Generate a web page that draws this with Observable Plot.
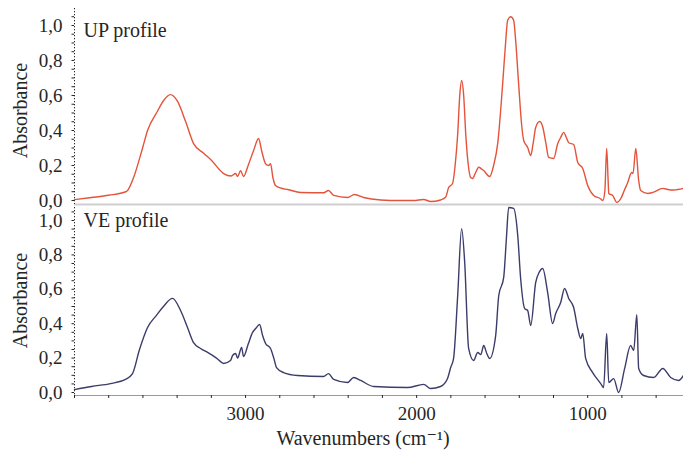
<!DOCTYPE html>
<html><head><meta charset="utf-8">
<script src="https://cdn.jsdelivr.net/npm/d3@7"></script>
<script src="https://cdn.jsdelivr.net/npm/@observablehq/plot@0.6"></script>
<style>
body{margin:0;background:#fff}
#chart svg{display:block;overflow:visible}
#chart svg, #chart svg text{font-family:"Liberation Serif","Times New Roman","DejaVu Serif",serif !important}
</style>
</head><body><div id="chart"></div>
<script>
// UP profile spectrum (wavenumber, absorbance)
const upWn = [4000,3900,3800,3700,3690,3655,3602,3573,3515,3480,3439,3400,3350,3304,3245,3200,3128,3085,3058,3047,3029,3012,2985,2953,2924,2905,2883,2865,2854,2840,2825,2790,2754,2678,2544,2515,2485,2404,2363,2310,2210,2100,2018,1959,1918,1860,1830,1813,1790,1775,1760,1748,1737,1725,1713,1700,1684,1673,1655,1637,1620,1608,1573,1550,1526,1497,1480,1468,1450,1433,1420,1404,1385,1374,1351,1333,1320,1304,1281,1262,1245,1228,1199,1175,1158,1140,1125,1111,1082,1058,1029,1000,965,925,912,900,889,880,877,854,830,807,785,766,743,735,719,702,690,649,620,561,532,497,440];
const upAbs = [0.005,0.017,0.03,0.05,0.057,0.13,0.3,0.4,0.51,0.57,0.605,0.57,0.45,0.325,0.27,0.23,0.154,0.14,0.154,0.137,0.17,0.137,0.2,0.286,0.354,0.28,0.21,0.2,0.21,0.13,0.086,0.07,0.063,0.046,0.044,0.057,0.029,0.017,0.034,0.017,0.003,0.0,0.0,0.006,-0.006,0.003,0.02,0.074,0.097,0.2,0.38,0.6,0.686,0.6,0.38,0.22,0.131,0.126,0.16,0.19,0.18,0.171,0.137,0.2,0.326,0.669,0.9,1.03,1.05,1.03,0.9,0.669,0.42,0.343,0.303,0.257,0.32,0.417,0.451,0.417,0.33,0.246,0.24,0.326,0.36,0.389,0.36,0.33,0.32,0.217,0.183,0.086,0.029,0.01,0.0,0.05,0.297,0.1,0.04,0.029,-0.011,0.01,0.06,0.103,0.16,0.154,0.297,0.114,0.057,0.04,0.046,0.069,0.063,0.06,0.069];

// VE profile spectrum (wavenumber, absorbance)
const veWn = [4000,3900,3790,3702,3661,3620,3573,3520,3480,3427,3380,3340,3304,3263,3222,3170,3128,3088,3076,3058,3047,3023,3012,2985,2959,2941,2918,2900,2883,2854,2835,2819,2778,2696,2544,2515,2485,2404,2368,2327,2251,2053,1959,1918,1860,1820,1801,1784,1760,1737,1719,1696,1667,1643,1625,1608,1590,1573,1538,1520,1491,1475,1462,1433,1409,1392,1368,1351,1333,1304,1283,1263,1234,1205,1187,1158,1135,1111,1082,1058,1041,1029,1012,971,924,907,889,877,848,819,784,749,731,713,702,673,614,561,515,468,440];
const veAbs = [0.017,0.035,0.052,0.076,0.11,0.25,0.378,0.45,0.5,0.547,0.477,0.38,0.29,0.256,0.233,0.2,0.169,0.186,0.215,0.227,0.2,0.262,0.209,0.28,0.35,0.372,0.395,0.33,0.285,0.256,0.2,0.145,0.116,0.099,0.093,0.11,0.076,0.058,0.087,0.07,0.035,0.029,0.047,0.023,0.035,0.08,0.145,0.198,0.564,0.953,0.756,0.256,0.186,0.233,0.22,0.273,0.227,0.198,0.331,0.564,0.669,0.9,1.076,1.07,0.913,0.663,0.488,0.477,0.39,0.64,0.7,0.721,0.581,0.401,0.459,0.523,0.605,0.547,0.494,0.372,0.314,0.343,0.198,0.116,0.052,0.029,0.343,0.058,0.081,0.0,0.14,0.273,0.244,0.453,0.14,0.099,0.087,0.14,0.087,0.07,0.099];

const yTicks = [0, 0.2, 0.4, 0.6, 0.8, 1.0];
const yTickLabels = ["0,0", "0,2", "0,4", "0,6", "0,8", "1,0"];
const xTicks = [3000, 2000, 1000];
const panelLabels = ["UP profile", "VE profile"];
const yLabel = "Absorbance";
const xLabel = "Wavenumbers (cm\u207B\u00B9)";

const upData = upWn.map((w, i) => ({w, a: upAbs[i]}));
const veData = veWn.map((w, i) => ({w, a: veAbs[i]}));

const W = 683, ML = 74, MR = 0;
const xDomain = [4000, 440];
const ink = "#262626";
const minorY = d3.range(0, 1.0801, 0.05);
const minorX = d3.range(4000, 440, -200);

function yAxisMarks() {
  return [
    Plot.ruleX([4000], {stroke: ink, strokeDasharray: "1.3,1.7", strokeWidth: 1}),
    Plot.axisY({ticks: minorY, tickSize: 2.5, tickFormat: () => "", stroke: ink, label: null}),
    Plot.axisY({ticks: yTicks, tickSize: 0, tickPadding: 12, tickFormat: d => yTickLabels[yTicks.findIndex(t => Math.abs(t - d) < 1e-9)], fontSize: 19, fill: ink, label: null})
  ];
}

const upPlot = Plot.plot({
  width: W, height: 205, marginLeft: ML, marginRight: MR, marginTop: 8, marginBottom: 1,
  style: {color: ink, background: "transparent"},
  x: {domain: xDomain, axis: null},
  y: {domain: [-0.0229, 1.097]},
  marks: [
    Plot.ruleY([-0.0229], {stroke: "#cfcfcf", strokeWidth: 2}),
    ...yAxisMarks(),
    Plot.line(upData, {x: "w", y: "a", stroke: "#e4533b", strokeWidth: 1.4, curve: "monotone-x"}),
    Plot.text([panelLabels[0]], {frameAnchor: "top-left", textAnchor: "start", lineAnchor: "top", dx: 9, dy: 14, fontSize: 20, fill: ink}),
    Plot.text([yLabel], {frameAnchor: "left", textAnchor: "middle", rotate: -90, dx: -54, dy: 4, fontSize: 20, fill: ink})
  ]
});

const vePlot = Plot.plot({
  width: W, height: 247, marginLeft: ML, marginRight: MR, marginTop: 2, marginBottom: 57,
  style: {color: ink, background: "transparent"},
  x: {domain: xDomain},
  y: {domain: [-0.0174, 1.0756]},
  marks: [
    Plot.ruleY([-0.0174], {stroke: "#9a9a9a", strokeWidth: 1.2}),
    Plot.axisX({ticks: minorX, tickSize: 3, tickFormat: () => "", stroke: ink, label: null}),
    Plot.axisX({ticks: xTicks, tickSize: 0, tickPadding: 11, tickFormat: d => String(d), fontSize: 19, fill: ink, label: null}),
    ...yAxisMarks(),
    Plot.line(veData, {x: "w", y: "a", stroke: "#3b3c6a", strokeWidth: 1.4, curve: "monotone-x"}),
    Plot.text([panelLabels[1]], {frameAnchor: "top-left", textAnchor: "start", lineAnchor: "top", dx: 9, dy: 5, fontSize: 20, fill: ink}),
    Plot.text([yLabel], {frameAnchor: "left", textAnchor: "middle", rotate: -90, dx: -54, dy: -1, fontSize: 20, fill: ink}),
    Plot.text([xLabel], {frameAnchor: "bottom", textAnchor: "middle", lineAnchor: "top", dx: -16, dy: 35.5, fontSize: 20, fill: ink})
  ]
});

document.getElementById("chart").append(upPlot, vePlot);
</script>
</body></html>
